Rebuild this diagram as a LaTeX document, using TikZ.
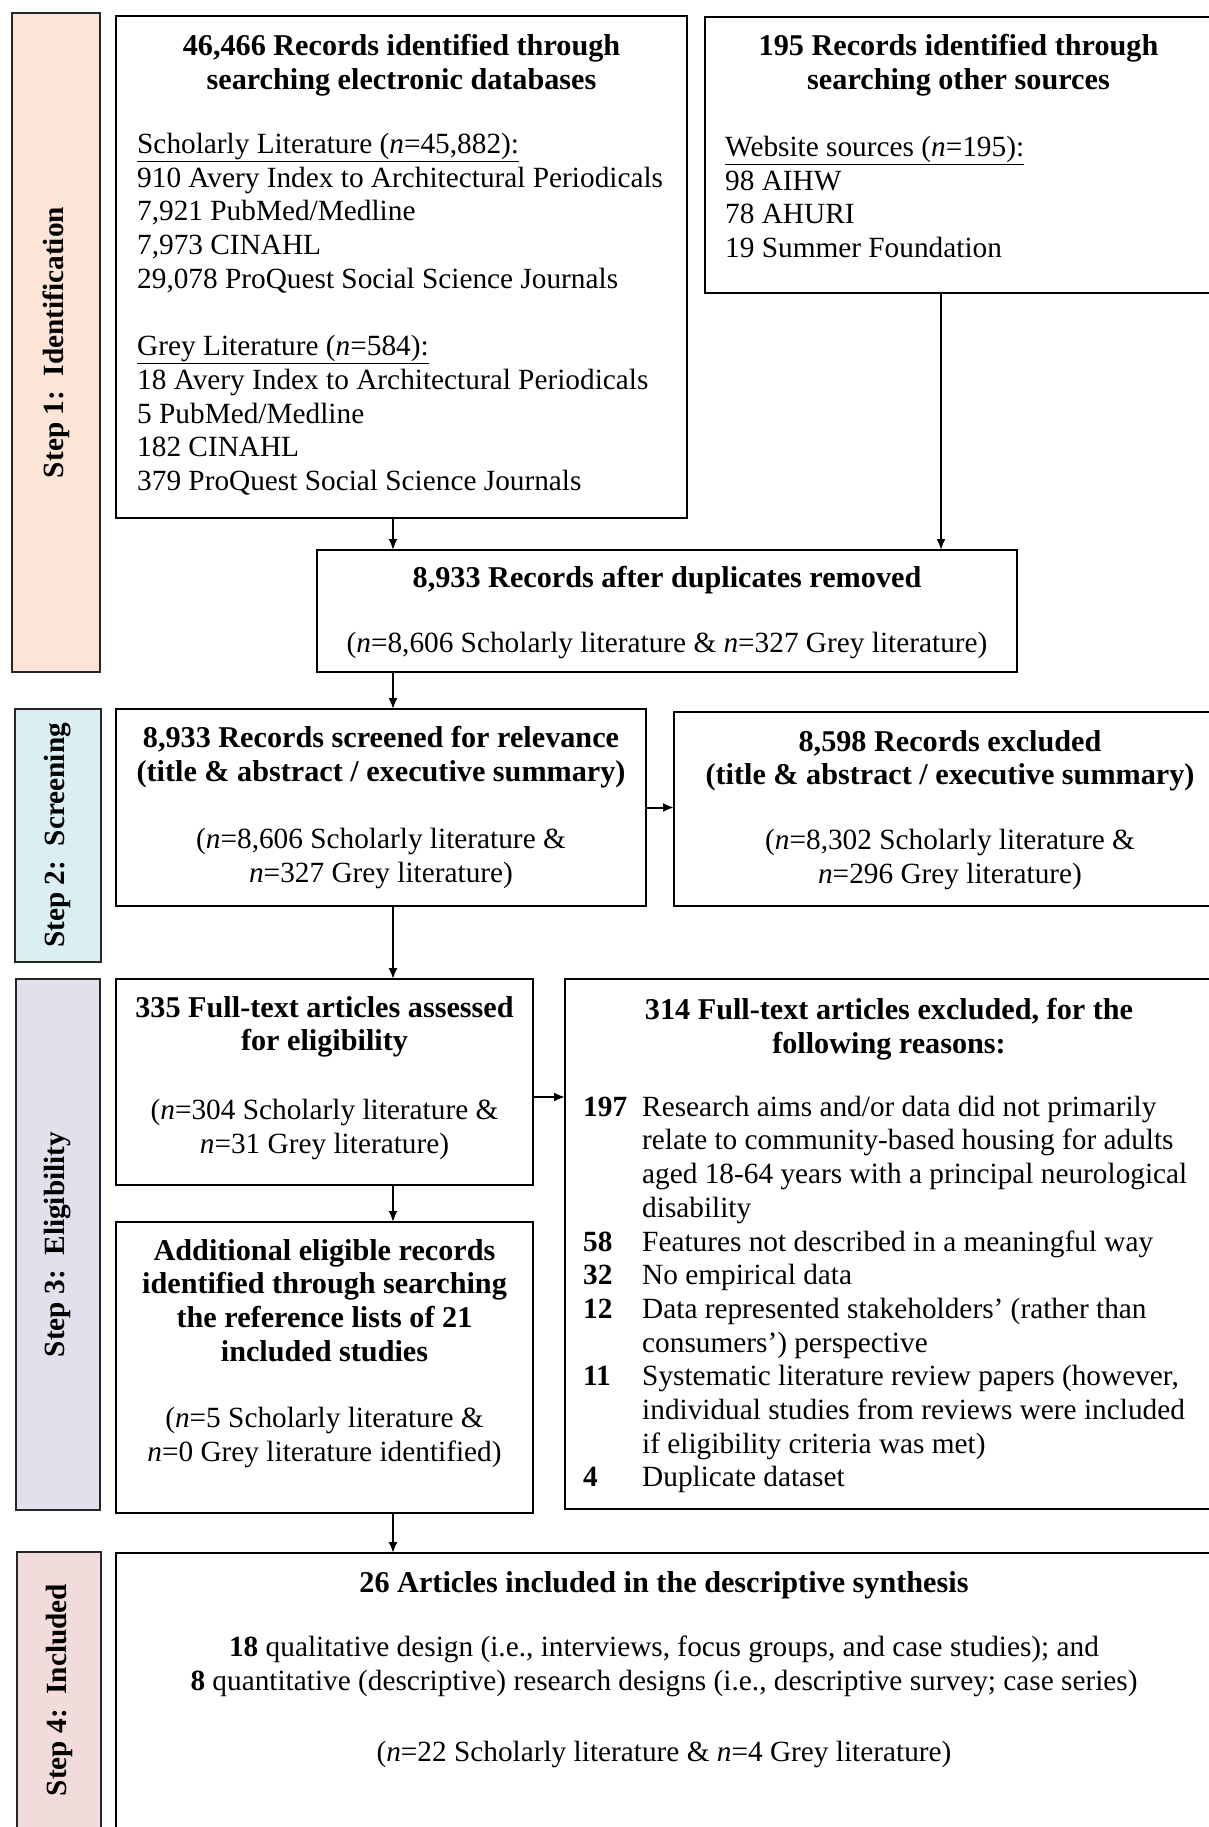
\documentclass[tikz,border=0pt]{standalone}
\usepackage{fontspec}
\setmainfont{Liberation Serif}
\usetikzlibrary{positioning,arrows.meta}
\newcommand{\boxfont}{\fontsize{29.3}{33.7}\selectfont}
\newcommand{\headfont}{\fontsize{30.2}{33.7}\selectfont\bfseries}
\definecolor{idfill}{HTML}{FCE4D6}
\definecolor{scrfill}{HTML}{DAEEF3}
\definecolor{elifill}{HTML}{E4DFEC}
\definecolor{incfill}{HTML}{F2DCDB}
\tikzset{
  box/.style={draw=black, line width=2.2pt, inner sep=0pt, outer sep=0pt, anchor=north west},
  side/.style={draw=black!85, line width=2.4pt, inner sep=0pt, outer sep=0pt, anchor=north west},
  head/.style={inner sep=0pt, font=\headfont, align=center},
  body/.style={inner sep=0pt, font=\boxfont, align=center},
  lst/.style={inner sep=0pt, font=\boxfont, align=left},
  lbl/.style={inner sep=0pt, font=\boxfont\bfseries, rotate=90},
  arr/.style={line width=2pt, -{Latex[length=11pt,width=9pt]}}
}
\begin{document}
\begin{tikzpicture}[x=1pt,y=-1pt]
\useasboundingbox (0,0) rectangle (1208,1827);
% step bars
\node[side, fill=idfill, minimum width=88pt, minimum height=659pt] (s1) at (12,13) {};
\node[side, fill=scrfill, minimum width=86pt, minimum height=253pt] (s2) at (15,709) {};
\node[side, fill=elifill, minimum width=84pt, minimum height=531pt] (s3) at (16,979) {};
\node[side, fill=incfill, minimum width=84pt, minimum height=276pt] (s4) at (17,1552) {};
\node[lbl] (s1l) at (s1.center) {Step 1:~~Identification};
\node[lbl] (s2l) at (s2.center) {Step 2:~~Screening};
\node[lbl] (s3l) at (s3.center) {Step 3:~~Eligibility};
\node[lbl] (s4l) at (s4.center) {Step 4:~~Included};
% boxes
\node[box, minimum width=571pt, minimum height=502pt] (b1) at (116,16) {};
\node[box, minimum width=507pt, minimum height=276pt] (b2) at (705,17) {};
\node[box, minimum width=700pt, minimum height=122pt] (b3) at (317,550) {};
\node[box, minimum width=530pt, minimum height=197pt] (b4) at (116,709) {};
\node[box, minimum width=552pt, minimum height=194pt] (b5) at (674,712) {};
\node[box, minimum width=417pt, minimum height=206pt] (b6) at (116,979) {};
\node[box, minimum width=417pt, minimum height=291pt] (b7) at (116,1222) {};
\node[box, minimum width=648pt, minimum height=530pt] (b8) at (565,979) {};
\node[box, minimum width=1096pt, minimum height=290pt] (b9) at (116,1553) {};
% texts
\node[head, below=18pt of b1.north] (b1h) {46,466 Records identified through\\searching electronic databases};
\node[lst, below right=117pt and 21pt of b1.north west] (b1l) {\underline{Scholarly Literature (\textit{n}=45,882):}\\
910 Avery Index to Architectural Periodicals\\
7,921 PubMed/Medline\\
7,973 CINAHL\\
29,078 ProQuest Social Science Journals\\[33.7pt]
\underline{Grey Literature (\textit{n}=584):}\\
18 Avery Index to Architectural Periodicals\\
5 PubMed/Medline\\
182 CINAHL\\
379 ProQuest Social Science Journals};
\node[head, below=17pt of b2.north] (b2h) {195 Records identified through\\searching other sources};
\node[lst, below right=119pt and 20pt of b2.north west] (b2l) {\underline{Website sources (\textit{n}=195):}\\
98 AIHW\\
78 AHURI\\
19 Summer Foundation};
\node[head, below=16pt of b3.north] (b3h) {8,933 Records after duplicates removed};
\node[body, below=82pt of b3.north] (b3t) {(\textit{n}=8,606 Scholarly literature \& \textit{n}=327 Grey literature)};
\node[head, below=17pt of b4.north] (b4h) {8,933 Records screened for relevance\\(title \& abstract / executive summary)};
\node[body, below=119pt of b4.north] (b4t) {(\textit{n}=8,606 Scholarly literature \&\\\textit{n}=327 Grey literature)};
\node[head, below=18pt of b5.north] (b5h) {8,598 Records excluded\\(title \& abstract / executive summary)};
\node[body, below=117pt of b5.north] (b5t) {(\textit{n}=8,302 Scholarly literature \&\\\textit{n}=296 Grey literature)};
\node[head, below=17pt of b6.north] (b6h) {335 Full-text articles assessed\\for eligibility};
\node[body, below=120pt of b6.north] (b6t) {(\textit{n}=304 Scholarly literature \&\\\textit{n}=31 Grey literature)};
\node[head, below=17pt of b7.north] (b7h) {Additional eligible records\\identified through searching\\the reference lists of 21\\included studies};
\node[body, below=185pt of b7.north] (b7t) {(\textit{n}=5 Scholarly literature \&\\\textit{n}=0 Grey literature identified)};
\node[head, below=19pt of b8.north] (b8h) {314 Full-text articles excluded, for the\\following reasons:};
\node[lst, below right=113.4pt and 18pt of b8.north west] (b8l) {\begin{tabular}{@{}p{59pt}@{}l@{}}
\textbf{197} & Research aims and/or data did not primarily\\
 & relate to community-based housing for adults\\
 & aged 18-64 years with a principal neurological\\
 & disability\\
\textbf{58} & Features not described in a meaningful way\\
\textbf{32} & No empirical data\\
\textbf{12} & Data represented stakeholders’ (rather than\\
 & consumers’) perspective\\
\textbf{11} & Systematic literature review papers (however,\\
 & individual studies from reviews were included\\
 & if eligibility criteria was met)\\
\textbf{4} & Duplicate dataset
\end{tabular}};
\node[head, below=18pt of b9.north] (b9h) {26 Articles included in the descriptive synthesis};
\node[body, below=83pt of b9.north] (b9t) {\textbf{18} qualitative design (i.e., interviews, focus groups, and case studies); and\\
\textbf{8} quantitative (descriptive) research designs (i.e., descriptive survey; case series)\\[37pt]
(\textit{n}=22 Scholarly literature \& \textit{n}=4 Grey literature)};
% arrows
\coordinate (spine) at (393,0);
\coordinate (rspine) at (941,0);
\draw[arr] (b1.south -| spine) -- (b3.north -| spine);
\draw[arr] (b2.south -| rspine) -- (b3.north -| rspine);
\draw[arr] (b3.south -| spine) -- (b4.north -| spine);
\draw[arr] (b4.east) -- (b4.east -| b5.west);
\draw[arr] (b4.south -| spine) -- (b6.north -| spine);
\draw[arr] ([yshift=-15pt]b6.east) -- ([yshift=-15pt]b6.east -| b8.west);
\draw[arr] (b6.south -| spine) -- (b7.north -| spine);
\draw[arr] (b7.south -| spine) -- (b9.north -| spine);
\end{tikzpicture}
\end{document}
